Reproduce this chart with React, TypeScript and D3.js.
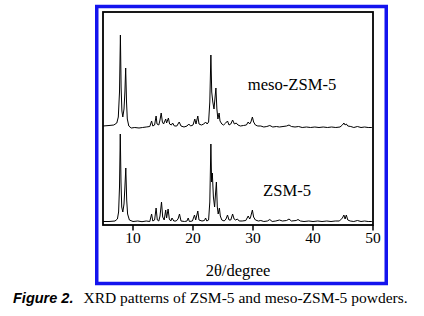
import React from "react";
import * as d3 from "d3";

// 2θ (degree) vs intensity (a.u., relative to each pattern's own baseline)
const zsm5: [number, number][] = [
  [5, 0.5], [6, 0.5], [7, 1], [7.4, 3], [7.6, 10], [7.75, 35], [7.88, 88], [8.0, 40], [8.12, 15],
  [8.3, 10], [8.5, 18], [8.65, 35], [8.8, 54], [8.95, 22], [9.1, 8], [9.4, 2], [10, 0.5], [10.8, 1],
  [11.5, 0.3], [12.2, 1], [12.8, 0.5], [13.1, 8], [13.3, 1], [13.6, 2], [13.85, 14], [14.05, 2],
  [14.3, 1], [14.5, 6], [14.75, 20], [14.95, 5], [15.2, 2], [15.45, 12], [15.6, 4], [15.85, 13],
  [16.05, 3], [16.3, 1], [16.5, 4], [16.8, 1], [17.2, 1], [17.5, 3], [17.75, 8], [18.0, 1],
  [18.6, 0.5], [19.0, 1], [19.2, 4], [19.4, 0.5], [19.9, 1], [20.25, 7], [20.45, 2], [20.8, 11],
  [21.0, 2], [21.5, 1], [21.9, 1.5], [22.1, 4], [22.3, 1], [22.6, 2], [22.8, 20], [22.98, 78],
  [23.1, 40], [23.22, 49], [23.4, 25], [23.6, 15], [23.75, 28], [23.9, 40], [24.05, 15], [24.2, 8],
  [24.4, 14], [24.55, 6], [24.8, 2], [25.2, 1], [25.5, 3], [25.75, 7], [26.0, 2], [26.3, 2],
  [26.6, 8], [26.85, 3], [27.1, 2], [27.4, 3], [27.7, 1], [28.2, 1], [28.8, 1.5], [29.2, 6],
  [29.45, 3], [29.6, 5], [29.9, 12], [30.1, 5], [30.4, 2], [30.9, 1], [31.3, 1.5], [31.8, 0.5],
  [32.4, 1], [32.8, 2.5], [33.2, 0.5], [33.8, 1], [34.4, 2], [34.9, 1], [35.6, 1.5], [36.0, 3],
  [36.4, 1], [37.2, 1.5], [37.5, 2.5], [37.9, 1], [38.5, 0.5], [39.3, 1], [40, 0.5], [40.8, 1],
  [41.5, 0.5], [42.3, 1], [43, 0.5], [43.7, 1], [44.4, 1], [44.9, 4], [45.15, 7], [45.35, 3],
  [45.55, 7], [45.8, 2], [46.2, 1], [46.8, 0.5], [47.4, 1.5], [48.0, 0.5], [48.6, 1], [49.2, 0.5],
  [49.8, 0.5],
];

const mesoZsm5: [number, number][] = [
  [5, 1], [6, 1.5], [6.8, 2], [7.3, 4], [7.55, 10], [7.75, 35], [7.9, 92], [8.02, 40], [8.15, 16],
  [8.3, 10], [8.5, 18], [8.65, 35], [8.78, 59], [8.92, 25], [9.05, 8], [9.3, 1], [9.7, -1],
  [10.3, -0.5], [11, -1], [11.6, -0.5], [12.2, 0], [12.8, 0.5], [13.1, 6], [13.3, 1], [13.6, 2],
  [13.85, 11], [14.0, 3], [14.3, 2], [14.5, 7], [14.7, 14], [14.9, 5], [15.1, 3], [15.45, 8],
  [15.6, 4], [15.9, 9], [16.1, 3], [16.4, 2], [16.6, 4], [16.9, 1], [17.3, 1], [17.7, 5], [18.0, 1],
  [18.5, 0], [19.0, 1], [19.3, 3], [19.6, 1], [20.0, 2], [20.3, 8], [20.5, 3], [20.8, 11], [21.0, 3],
  [21.4, 2], [21.8, 3], [22.1, 5], [22.35, 3], [22.6, 5], [22.8, 25], [22.98, 72], [23.12, 35],
  [23.3, 25], [23.5, 18], [23.65, 28], [23.82, 39], [23.98, 18], [24.15, 8], [24.35, 14], [24.5, 6],
  [24.8, 3], [25.1, 2], [25.45, 4], [25.75, 6], [26.0, 2], [26.3, 3], [26.6, 7], [26.9, 3],
  [27.2, 4], [27.5, 2], [27.9, 1], [28.4, 1.5], [28.9, 2], [29.2, 5], [29.45, 3], [29.65, 5],
  [29.9, 10], [30.1, 5], [30.4, 2], [30.8, 1], [31.3, 1], [31.8, 0], [32.3, 0.5], [32.8, 1.5],
  [33.3, 0], [33.9, 0.5], [34.4, 0], [35.0, 0.5], [35.6, 1], [36.0, 2], [36.4, 0.5], [37.0, 0],
  [37.6, 0.5], [38.2, -0.5], [38.9, 0], [39.6, -0.5], [40.3, 0], [41.0, -0.5], [41.7, 0],
  [42.4, -0.5], [43.1, 0], [43.8, -0.5], [44.5, 0], [44.9, 2], [45.15, 4], [45.35, 2], [45.55, 3],
  [45.8, 1], [46.3, 0.5], [46.8, -0.5], [47.4, 0.5], [48.0, -0.5], [48.6, 0], [49.2, -0.5],
  [49.8, -0.5],
];

const series = [
  { name: "ZSM-5", data: zsm5, offset: 3, label: [287, 196] },
  { name: "meso-ZSM-5", data: mesoZsm5, offset: 98, label: [292, 90] },
];

const xTicks = [10, 20, 30, 40, 50];

const W = 424, H = 316;
const box = { left: 103, right: 373, top: 12, bottom: 225 };
const serif = "'Liberation Serif', 'Times New Roman', serif";

export default function App() {
  const x = d3.scaleLinear().domain([5, 50]).range([box.left, box.right]);
  const y = d3.scaleLinear().domain([0, 213]).range([box.bottom, box.top]);

  return (
    <svg width={W} height={H} style={{ position: "absolute", left: 0, top: 0, background: "#fff" }}>
      <rect x={0} y={0} width={W} height={H} fill="#fff" />
      {/* blue outer frame */}
      <rect x={96.75} y={6.5} width={289.5} height={277} fill="none" stroke="#1414ee" strokeWidth={3.5} />

      {series.map(s => {
        const line = d3.line<[number, number]>()
          .x(d => x(d[0]))
          .y(d => y(d[1] + s.offset));
        return (
          <g key={s.name}>
            <path d={line(s.data) ?? ""} fill="none" stroke="#000" strokeWidth={1} strokeLinejoin="round" />
            <text x={s.label[0]} y={s.label[1]} textAnchor="middle" fontFamily={serif} fontSize={16.6}>
              {s.name}
            </text>
          </g>
        );
      })}

      {/* plot frame */}
      <rect x={box.left} y={box.top} width={box.right - box.left} height={box.bottom - box.top}
        fill="none" stroke="#000" strokeWidth={1.8} />

      {xTicks.map(t => (
        <g key={t}>
          <line x1={x(t)} x2={x(t)} y1={box.bottom} y2={box.bottom + 5.5} stroke="#000" strokeWidth={1.5} />
          <text x={x(t)} y={243} textAnchor="middle" fontFamily={serif} fontSize={15.5}>{t}</text>
        </g>
      ))}
      <text x={238} y={276} textAnchor="middle" fontFamily={serif} fontSize={16.5}>2θ/degree</text>

      <text x={13} y={303}>
        <tspan fontFamily="'Liberation Sans', Arial, sans-serif" fontWeight="bold" fontStyle="italic" fontSize={14.5}>Figure 2.</tspan>
        <tspan fontFamily={serif} fontSize={15.5} dx={10}>XRD patterns of ZSM-5 and meso-ZSM-5 powders.</tspan>
      </text>
    </svg>
  );
}
